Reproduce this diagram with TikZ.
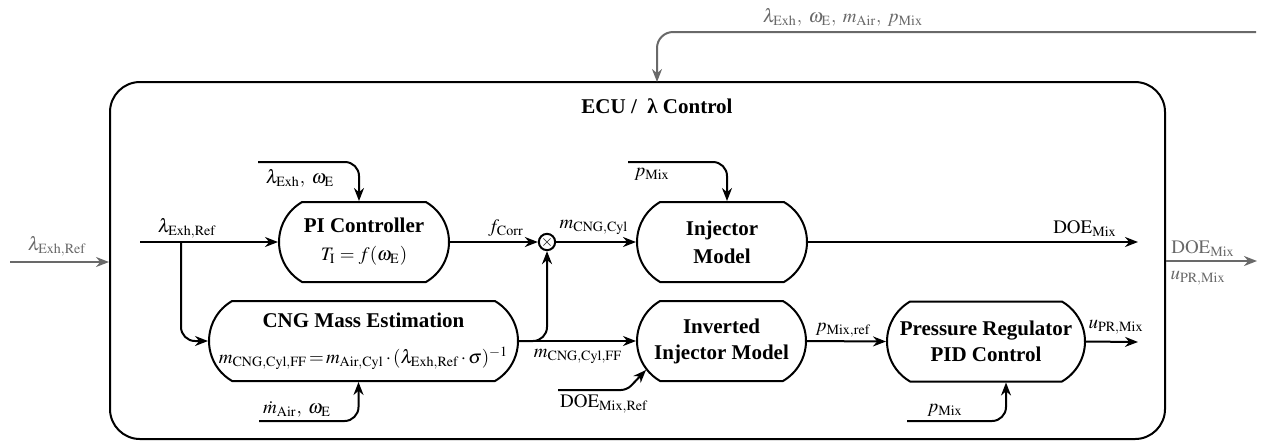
\documentclass[tikz,border=0pt]{standalone}
\usepackage{mathptmx}
\usepackage[no-math]{fontspec}
\setmainfont{Liberation Serif}
\usepackage{tikz}
\usetikzlibrary{shapes.misc,arrows.meta}
\definecolor{extgray}{RGB}{105,105,105}

\begin{document}
\begin{tikzpicture}[x=0.50pt,y=0.50pt,yscale=-1,xscale=1,
    blk/.style={draw,line width=1pt,rounded rectangle,rounded rectangle arc length=120,
        minimum height=40pt,inner sep=0pt,align=center,font=\fontsize{10.5}{13}\selectfont\bfseries},
    sig/.style={draw,line width=1pt,-{Stealth[length=6.5pt,width=5pt]}},
    ext/.style={sig,draw=extgray},
    lbl/.style={inner sep=0pt,font=\fontsize{9.5}{11}\selectfont},
    extlbl/.style={lbl,text=extgray}]
    \useasboundingbox (0,0) rectangle (1261,441);
    %Shape: ECU frame
    \node[draw,line width=1pt,rounded corners=15pt,minimum width=527.5pt,minimum height=178.5pt,inner sep=0pt] (ecu) at (637.5,260.5) {};
    % Text Node
    \node[font=\fontsize{10.5}{12}\selectfont\bfseries] (ttl) at (657,106) {ECU /~~λ Control};

    %Shape: blocks
    \node[blk,minimum width=85pt] (pi) at (364,242) {PI Controller\\[1pt]{\mdseries\fontsize{9.5}{11}\selectfont$T_{\mathrm{I}}=f(\omega_{\mathrm{E}})$}};
    \node[blk,minimum width=85pt] (inj) at (722,242) {Injector\\[1pt]Model};
    \node[blk,minimum width=154.5pt] (cng) at (363.5,341) {CNG Mass Estimation\\[5pt]{\mdseries\fontsize{9.5}{11}\selectfont$m_{\mathrm{CNG,Cyl,FF}}\,{=}\,m_{\mathrm{Air,Cyl}}\,{\cdot}\,(\lambda_{\mathrm{Exh,Ref}}\,{\cdot}\,\sigma)^{-1}$}};
    \node[blk,minimum width=84.5pt] (inv) at (721.5,341) {Inverted\\Injector Model};
    \node[blk,minimum width=99pt] (prc) at (986,341.5) {Pressure Regulator\\PID Control};
    %Shape: Circle
    \node[draw,circle,line width=1pt,minimum size=8pt,inner sep=0pt,font=\fontsize{8}{8}\selectfont] (mult) at (547,242) {$\times$};

    %Straight Lines
    \coordinate (refin) at (140,242);
    \coordinate (refbr) at (181,242);
    \draw[sig] (refin) -- (pi.west);
    \draw[sig,rounded corners=7pt] (refbr) |- (cng.west);
    \coordinate (piin) at (258,162);
    \draw[sig,rounded corners=7pt] (piin) -| ([xshift=-2.5pt]pi.north);
    \draw[sig] (pi.east) -- (mult.west);
    \draw[sig] (mult.east) -- (inj.west);
    \coordinate (injin) at (628,162);
    \draw[sig,rounded corners=7pt] (injin) -| ([xshift=2.5pt]inj.north);
    \coordinate (doeout) at (1138,242);
    \draw[sig] (inj.east) -- (doeout);
    \draw[sig] (cng.east) -- (inv.west);
    \draw[sig,rounded corners=7pt] (cng.east) -| (mult.south);
    \coordinate (mairin) at (259,421);
    \draw[sig,rounded corners=7pt] (mairin) -| ([xshift=-2.5pt]cng.south);
    \coordinate (doerefin) at (558,390);
    \coordinate (doeknee) at (627,390);
    \draw[sig,rounded corners=3pt] (doerefin) -- (doeknee) -- (inv.201);
    \draw[sig] (inv.east) -- (prc.west);
    \coordinate (uprout) at (1138,342);
    \draw[sig] (prc.east) -- (uprout);
    \coordinate (pmixin) at (907,421);
    \draw[sig,rounded corners=7pt] (pmixin) -| ([xshift=10pt]prc.south);

    %Straight Lines: outside signals
    \coordinate (extin) at (10,262);
    \draw[ext] (extin) -- (extin -| ecu.west);
    \coordinate (extout) at (1257,261);
    \draw[ext] (extout -| ecu.east) -- (extout);
    \coordinate (fbin) at (1256,32);
    \coordinate (fbdown) at (657,82);
    \draw[ext,rounded corners=8pt] (fbin) -| (fbdown);

    % Text Node
    \node[lbl] (lref) at (187,228) {$\lambda_{\mathrm{Exh,Ref}}$};
    \node[lbl] (lpiin) at (300,178) {$\lambda_{\mathrm{Exh}},\;\omega_{\mathrm{E}}$};
    \node[lbl] (lcorr) at (506,228) {$f_{\mathrm{Corr}}$};
    \node[lbl] (lmcyl) at (594,227) {$m_{\mathrm{CNG,Cyl}}$};
    \node[lbl] (lpmix) at (652,174) {$p_{\mathrm{Mix}}$};
    \node[lbl] (ldoe) at (1085,229) {$\mathrm{DOE}_{\mathrm{Mix}}$};
    \node[lbl] (lmff) at (578,356) {$m_{\mathrm{CNG,Cyl,FF}}$};
    \node[lbl] (lmair) at (297,409) {$\dot{m}_{\mathrm{Air}},\;\omega_{\mathrm{E}}$};
    \node[lbl] (ldoeref) at (604,404) {$\mathrm{DOE}_{\mathrm{Mix,Ref}}$};
    \node[lbl] (lpref) at (843,330) {$p_{\mathrm{Mix,ref}}$};
    \node[lbl] (lupr) at (1116,327) {$u_{\mathrm{PR,Mix}}$};
    \node[lbl] (lpmix2) at (945,410) {$p_{\mathrm{Mix}}$};
    \node[extlbl] (xref) at (57,246) {$\lambda_{\mathrm{Exh,Ref}}$};
    \node[extlbl] (xdoe) at (1203,249) {$\mathrm{DOE}_{\mathrm{Mix}}$};
    \node[extlbl] (xupr) at (1198,278) {$u_{\mathrm{PR,Mix}}$};
    \node[extlbl] (xfb) at (843,17) {$\lambda_{\mathrm{Exh}},\;\omega_{\mathrm{E}},\;m_{\mathrm{Air}},\;p_{\mathrm{Mix}}$};
\end{tikzpicture}
\end{document}
